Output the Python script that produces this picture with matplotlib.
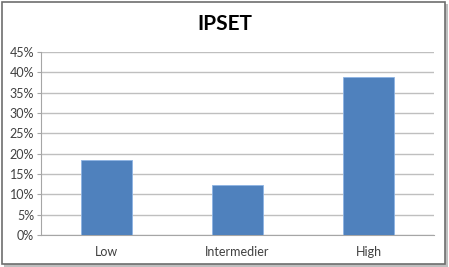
import matplotlib.pyplot as plt
from matplotlib.patches import Rectangle
from matplotlib.ticker import PercentFormatter

# data
categories = ['Low', 'Intermedier', 'High']
values = [18.5, 12.2, 38.9]
yticks = [0, 5, 10, 15, 20, 25, 30, 35, 40, 45]

plt.rcParams['font.family'] = ['Lato', 'DejaVu Sans']

fig = plt.figure(figsize=(4.49, 2.67), dpi=100)
fig.patch.set_facecolor('white')

# outer frame with a small shadow like the Excel chart area
W, H = 449, 267
fig.patches.append(Rectangle((4 / W, 0), 444 / W, 263 / H, transform=fig.transFigure,
                             facecolor='#bfbfbf', edgecolor='none', zorder=0))
fig.patches.append(Rectangle((1.5 / W, 3 / H), 443 / W, 262 / H, transform=fig.transFigure,
                             facecolor='white', edgecolor='#6e6e6e', linewidth=1.2, zorder=1))

ax = fig.add_axes([41 / W, 32 / H, 393 / W, 183 / H])
ax.set_facecolor('none')
ax.set_zorder(2)

x = range(len(categories))
ax.bar(x, values, width=0.39, color='#4F81BD', edgecolor='#8eb4e3', linewidth=0.6, zorder=3)

ax.set_xlim(-0.5, 2.5)
ax.set_ylim(0, 45)
ax.set_yticks(yticks)
ax.yaxis.set_major_formatter(PercentFormatter(decimals=0))
ax.set_xticks(list(x))
ax.set_xticklabels(categories)

ax.grid(axis='y', color='#bfbfbf', linewidth=1.0, zorder=0)
for s in ['top', 'right']:
    ax.spines[s].set_visible(False)
ax.spines['left'].set_color('#a6a6a6')
ax.spines['bottom'].set_color('#a6a6a6')
ax.tick_params(axis='y', length=3, color='#a6a6a6', labelsize=9, labelcolor='#404040', pad=2)
ax.tick_params(axis='x', length=0, labelsize=9, labelcolor='#404040', pad=8)

fig.text(0.5, 1 - 24 / H, 'IPSET', ha='center', va='center', fontsize=15, fontweight='bold')

fig.savefig('out.png', dpi=100)
